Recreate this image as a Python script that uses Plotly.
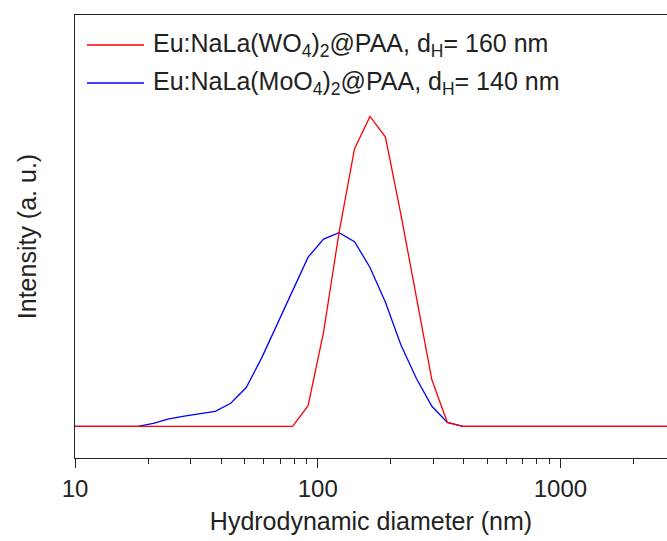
import plotly.graph_objects as go

# Size bins (nm) of the DLS distribution
diameter_nm = [8.721, 10.1, 11.7, 13.54, 15.69, 18.17, 21.04, 24.36, 28.21, 32.67, 37.84,
               43.82, 50.75, 58.77, 68.06, 78.82, 91.28, 105.7, 122.4, 141.8, 164.2,
               190.1, 220.2, 255.0, 295.3, 342.0, 396.1, 458.7, 531.2, 615.1, 712.4,
               825.0, 955.4, 1106, 1281, 1484, 1718, 1990, 2305, 2669, 3091, 3580]

# Intensity (a. u.) for Eu:NaLa(WO4)2@PAA
intensity_wo4 = [0, 0, 0, 0, 0, 0, 0, 0, 0, 0, 0,
                 0, 0, 0, 0, 0, 1.6, 7.3, 15.0, 21.5, 24.0,
                 22.4, 16.4, 10.1, 3.6, 0.3, 0, 0, 0, 0, 0,
                 0, 0, 0, 0, 0, 0, 0, 0, 0, 0, 0]

# Intensity (a. u.) for Eu:NaLa(MoO4)2@PAA
intensity_moo4 = [0, 0, 0, 0, 0, 0, 0.23, 0.58, 0.78, 0.97, 1.16,
                  1.78, 3.0, 5.3, 7.9, 10.6, 13.1, 14.5, 15.0, 14.3, 12.3,
                  9.6, 6.3, 3.7, 1.55, 0.3, 0, 0, 0, 0, 0,
                  0, 0, 0, 0, 0, 0, 0, 0, 0, 0, 0]

legend_labels = ["Eu:NaLa(WO<sub>4</sub>)<sub>2</sub>@PAA, d<sub>H</sub>= 160 nm",
                 "Eu:NaLa(MoO<sub>4</sub>)<sub>2</sub>@PAA, d<sub>H</sub>= 140 nm"]
colors = ["#FF0000", "#0000FF"]

W, H = 667, 541
ML, MR, MT, MB = 75, 0, 15, 83
PW, PH = W - ML - MR, H - MT - MB
FONT = "Arial, Liberation Sans, sans-serif"

fig = go.Figure()
fig.add_trace(go.Scatter(x=diameter_nm, y=intensity_moo4, mode="lines",
                         line=dict(color=colors[1], width=1.3), showlegend=False))
fig.add_trace(go.Scatter(x=diameter_nm, y=intensity_wo4, mode="lines",
                         line=dict(color=colors[0], width=1.3), showlegend=False))

def px2x(px):
    return (px - ML) / PW

def py2y(py):
    return (H - MB - py) / PH

rows_y = [45, 83]
for lab, col, ry in zip(legend_labels, colors, rows_y):
    fig.add_shape(type="line", xref="paper", yref="paper",
                  x0=px2x(87), x1=px2x(144), y0=py2y(ry), y1=py2y(ry),
                  line=dict(color=col, width=1.3))
    fig.add_annotation(xref="paper", yref="paper", x=px2x(151), y=py2y(ry),
                       xanchor="left", yanchor="middle", showarrow=False,
                       text=lab, font=dict(family=FONT, size=25, color="#222"))

fig.update_layout(
    width=W, height=H,
    margin=dict(l=ML, r=MR, t=MT, b=MB, pad=0),
    paper_bgcolor="white", plot_bgcolor="white",
    font=dict(family=FONT, size=24, color="#222"),
    showlegend=False,
)
fig.update_xaxes(
    type="log", range=[1, 3.439],
    tickvals=[10, 100, 1000], ticktext=["10", "100", "1000"],
    ticks="outside", ticklen=9, tickwidth=1.2, tickcolor="#222",
    minor=dict(ticks="outside", ticklen=5, tickwidth=1.2, tickcolor="#222", dtick="D1", showgrid=False),
    showline=True, linecolor="#222", linewidth=1.3, mirror=True,
    showgrid=False, zeroline=False,
    title=dict(text="Hydrodynamic diameter (nm)", font=dict(size=25), standoff=11),
    tickfont=dict(size=24),
)
fig.update_yaxes(
    range=[-2.457, 31.86],
    showticklabels=False, ticks="",
    showline=True, linecolor="#222", linewidth=1.3, mirror=False,
    showgrid=False, zeroline=False,
    title=dict(text="Intensity (a. u.)", font=dict(size=25), standoff=30),
)

fig.write_html("out.html")
